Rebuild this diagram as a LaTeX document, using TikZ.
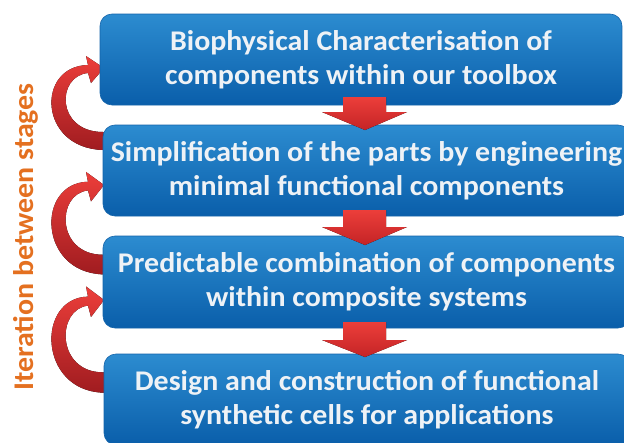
\documentclass[tikz,border=0pt]{standalone}
\usepackage{fontspec}
\setmainfont{Carlito}[FakeStretch=1.05]
\usetikzlibrary{calc}
\definecolor{boxtop}{RGB}{44,140,208}
\definecolor{boxbot}{RGB}{10,94,170}
\definecolor{boxedge}{RGB}{20,100,170}
\definecolor{txtw}{RGB}{238,242,246}
\definecolor{redtop}{RGB}{236,62,58}
\definecolor{redbot}{RGB}{196,36,38}
\definecolor{darkred}{RGB}{160,28,32}
\definecolor{iterorange}{RGB}{228,112,32}
\tikzset{
  stagebox/.style={draw=boxedge, line width=0.6pt, top color=boxtop, bottom color=boxbot,
    rounded corners=12pt, text=txtw, align=center, inner sep=0pt,
    font=\fontsize{28.5}{34}\selectfont\bfseries},
  downarrow/.style={top color=redtop, bottom color=redbot, draw=none},
  looparrow/.style={top color=redtop, bottom color=darkred, draw=none},
}
\newcommand{\iterarrow}[2]{% #1 shift, #2 yscale
  \begin{scope}[shift={(0,#1)}, yscale=#2]
    \fill[looparrow] (110,82) -- (103,82) .. controls (38,80) and (36,-2) .. (88,-3)
      -- (86,-12) -- (104,0) -- (91,15) -- (88,5)
      .. controls (56,8) and (56,64) .. (103,64) -- (110,64) -- cycle;
  \end{scope}}
\begin{document}
\begin{tikzpicture}[x=1pt,y=-1pt]
\useasboundingbox (0,0) rectangle (624,442);
% loop arrows (behind boxes)
\iterarrow{68}{1}
\iterarrow{185}{1.09}
\iterarrow{300}{1.13}
% boxes
\node[stagebox, minimum width=522pt, minimum height=91pt] (b1) at (361,59.5)
  {Biophysical Characterisation of\\components within our toolbox};
\node[stagebox, minimum width=527pt, minimum height=91pt] (b2) at (366.5,170.5)
  {Simplification of the parts by engineering\\minimal functional components};
\node[stagebox, minimum width=527pt, minimum height=92pt] (b3) at (366.5,282)
  {Predictable combination of components\\within composite systems};
\node[stagebox, minimum width=526pt, minimum height=91pt] (b4) at (367,399.5)
  {Design and construction of functional\\synthetic cells for applications};
% down arrows
\foreach \t/\hb/\tip in {97/112/130, 210/227/245, 322/340/357}{
  \fill[downarrow] (343,\t) -- (386,\t) -- (386,\hb) -- (407,\hb) -- (365,\tip)
    -- (322,\hb) -- (343,\hb) -- cycle;
}
% side label
\node[rotate=90, text=iterorange, font=\fontsize{28.5}{34}\selectfont\bfseries, inner sep=0pt]
  (lab) at (26,237) {Iteration between stages};
\end{tikzpicture}
\end{document}
